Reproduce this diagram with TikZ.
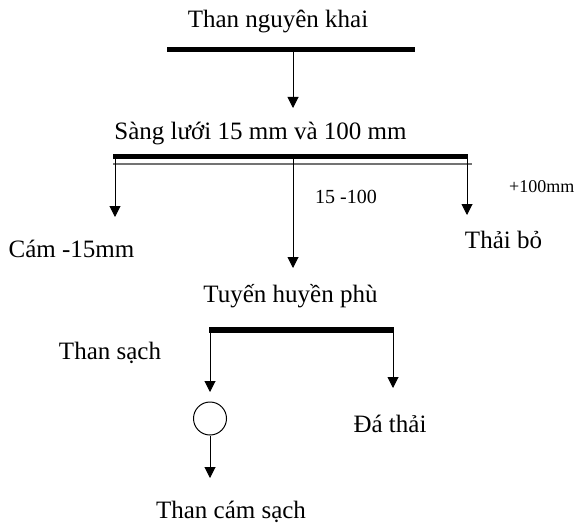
\documentclass[tikz,border=0pt]{standalone}
\usepackage{fontspec}
\setmainfont{Liberation Serif}
\usetikzlibrary{arrows.meta}
\begin{document}
\begin{tikzpicture}[x=1pt,y=-1pt,
  lbl/.style={anchor=base,inner sep=0pt,font=\fontsize{25}{30}\selectfont},
  small/.style={anchor=base,inner sep=0pt,font=\fontsize{20}{24}\selectfont},
  bar/.style={line width=5.5pt},
  rail/.style={line width=1.2pt,black!55},
  flow/.style={line width=1pt,-{Triangle[length=11pt,width=11pt]}}]
\useasboundingbox (0,0) rectangle (580,524);

% texts
\node[lbl] (raw) at (278,28) {Than nguyên khai};
\node[lbl] (screen) at (260.5,139) {Sàng lưới 15 mm và 100 mm};
\node[small] (mid) at (346,203) {15 -100};
\node[small,font=\fontsize{18}{22}\selectfont,anchor=base west] (big) at (509,192) {+100mm};
\node[lbl] (fines) at (71.5,257) {Cám -15mm};
\node[lbl] (reject) at (503.5,248) {Thải bỏ};
\node[lbl] (dms) at (290.5,302) {Tuyến huyền phù};
\node[lbl] (clean) at (110,359) {Than sạch};
\node[lbl] (stone) at (390,432) {Đá thải};
\node[lbl] (product) at (231,518) {Than cám sạch};
\node[draw,circle,line width=1pt,minimum size=33pt,inner sep=0pt] (mix) at (210,418.5) {};

% bars
\coordinate (b1l) at (167,49.5); \coordinate (b1r) at (415,49.5);
\draw[bar] (b1l) -- (b1r);
\coordinate (b2l) at (113,156.5); \coordinate (b2r) at (468,156.5);
\draw[bar] (b2l) -- (b2r);
\coordinate (r2l) at (113,164); \coordinate (r2r) at (472,164);
\draw[rail] (r2l) -- (r2r);
\coordinate (b3l) at (209,330); \coordinate (b3r) at (394,330);
\draw[bar] (b3l) -- (b3r);

% flows
\coordinate (s1) at (293,52); \coordinate (e1) at (293,108);
\draw[flow] (s1) -- (e1);
\coordinate (s2) at (115,159); \coordinate (e2) at (115,217);
\draw[flow] (s2) -- (e2);
\coordinate (s3) at (293,159); \coordinate (e3) at (293,268);
\draw[flow] (s3) -- (e3);
\coordinate (s4) at (467,159); \coordinate (e4) at (467,215);
\draw[flow] (s4) -- (e4);
\coordinate (s5) at (210,332); \coordinate (e5) at (210,392);
\draw[flow] (s5) -- (e5);
\coordinate (s6) at (393,332); \coordinate (e6) at (393,388);
\draw[flow] (s6) -- (e6);
\coordinate (e7) at (210,478);
\draw[flow] (mix.south) -- (e7);
\end{tikzpicture}
\end{document}
